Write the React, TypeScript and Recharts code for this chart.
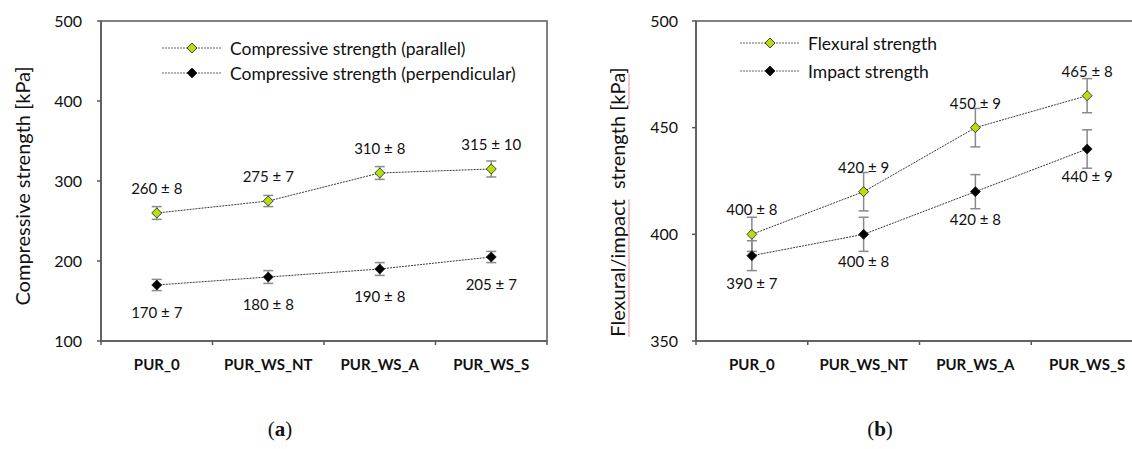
import {
  LineChart,
  Line,
  XAxis,
  YAxis,
  ErrorBar,
  LabelList,
  Label,
  Legend,
  ReferenceArea,
} from 'recharts'

const samples = ['PUR_0', 'PUR_WS_NT', 'PUR_WS_A', 'PUR_WS_S']

// compressive strength, kPa
const parallel = [260, 275, 310, 315]
const parallelErr = [8, 7, 8, 10]
const perpendicular = [170, 180, 190, 205]
const perpendicularErr = [7, 8, 8, 7]

// flexural / impact strength, kPa
const flexural = [400, 420, 450, 465]
const flexuralErr = [8, 9, 9, 8]
const impact = [390, 400, 420, 440]
const impactErr = [7, 8, 8, 9]

const compTicks = [100, 200, 300, 400, 500]
const flexTicks = [350, 400, 450, 500]
const bandTicks = [0, 0.5, 1, 1.5, 2, 2.5, 3, 3.5, 4]

const FONT = 'Lato, "Open Sans", sans-serif'
const AXIS = '#595959'
const LIME = '#b6de14'
const TICK_SIZE = 4
const TICK_GAP = 14

const pm = (v: number, e: number) => `${v} ± ${e}`

const compData = samples.map((s, i) => ({
  x: i + 0.5,
  sample: s,
  parallel: parallel[i],
  parallelErr: parallelErr[i],
  parallelLabel: pm(parallel[i], parallelErr[i]),
  perpendicular: perpendicular[i],
  perpendicularErr: perpendicularErr[i],
  perpendicularLabel: pm(perpendicular[i], perpendicularErr[i]),
}))

const flexData = samples.map((s, i) => ({
  x: i + 0.5,
  sample: s,
  flexural: flexural[i],
  flexuralErr: flexuralErr[i],
  flexuralLabel: pm(flexural[i], flexuralErr[i]),
  impact: impact[i],
  impactErr: impactErr[i],
  impactLabel: pm(impact[i], impactErr[i]),
}))

// tick marks sit on band edges, sample names in the middle of each band
const BandTick = ({ x, y, payload }: any) => {
  const v = payload?.value
  if (Number.isInteger(v)) {
    return <line x1={x} x2={x} y1={y - TICK_GAP - TICK_SIZE} y2={y - TICK_GAP} stroke={AXIS} strokeWidth={1.5} />
  }
  return (
    <text x={x} y={y} dy="0.71em" textAnchor="middle" fontFamily={FONT} fontWeight={700} fontSize={15} fill="#111">
      {samples[Math.floor(v)]}
    </text>
  )
}

const diamond = (fill: string) => (p: any) => {
  const { cx, cy, index } = p
  if (cx == null || cy == null) return <g key={index} />
  const r = 5
  return (
    <path
      key={index}
      d={`M${cx},${cy - r}L${cx + r},${cy}L${cx},${cy + r}L${cx - r},${cy}Z`}
      fill={fill}
      stroke="#1a1a1a"
      strokeWidth={0.8}
    />
  )
}

const valueLabel = (shift: number) => (p: any) => {
  const vb = p.viewBox || {}
  const x = vb.x ?? p.x
  const y = vb.y ?? p.y
  return (
    <text
      key={p.index}
      x={x}
      y={y + shift}
      textAnchor="middle"
      dominantBaseline="central"
      fontFamily={FONT}
      fontSize={15}
      fill="#111"
    >
      {p.value}
    </text>
  )
}

// rotated axis title; `marked` words get the faint red spell-check underline
const axisTitle = (parts: { text: string; marked?: boolean }[], dx: number, dy: number) => (p: any) => {
  const vb = p.viewBox || {}
  const cx = vb.x + dx
  const cy = vb.y + vb.height / 2 + dy
  return (
    <text
      x={cx}
      y={cy}
      transform={`rotate(-90, ${cx}, ${cy})`}
      textAnchor="middle"
      dominantBaseline="central"
      fontFamily={FONT}
      fontSize={20}
      fill="#111"
      style={{ whiteSpace: 'pre' }}
    >
      {parts.map((t, i) =>
        t.marked ? (
          <tspan key={i} fill="#f7c4c4" style={{ textDecoration: 'underline' }}>
            <tspan fill="#111">{t.text}</tspan>
          </tspan>
        ) : (
          <tspan key={i}>{t.text}</tspan>
        ),
      )}
    </text>
  )
}

const SeriesKey = ({ rows, rowHeight }: { rows: { name: string; fill: string }[]; rowHeight: number }) => (
  <div>
    {rows.map((r) => (
      <div key={r.name} style={{ display: 'flex', alignItems: 'center', height: rowHeight }}>
        <svg width={60} height={12}>
          <line x1={0} x2={60} y1={6} y2={6} stroke="#666" strokeWidth={1} strokeDasharray="2 1" />
          <path d="M30,1L35,6L30,11L25,6Z" fill={r.fill} stroke="#1a1a1a" strokeWidth={0.8} />
        </svg>
        <span style={{ marginLeft: 8, fontFamily: FONT, fontSize: 17.5, color: '#111', whiteSpace: 'nowrap' }}>
          {r.name}
        </span>
      </div>
    ))}
  </div>
)

const caption = (letter: string, left: number) => (
  <div
    style={{
      position: 'absolute',
      left,
      top: 417,
      width: 40,
      textAlign: 'center',
      fontFamily: '"Liberation Serif", serif',
      fontSize: 21,
      color: '#111',
    }}
  >
    (<b>{letter}</b>)
  </div>
)

export default function App() {
  return (
    <div
      style={{
        position: 'fixed',
        left: 0,
        top: 0,
        width: 1132,
        height: 449,
        overflow: 'hidden',
        background: '#fff',
      }}
    >
      <LineChart
        width={560}
        height={449}
        data={compData}
        margin={{ top: 21, right: 13, left: 41, bottom: 78 }}
        style={{ position: 'absolute', left: 0, top: 0 }}
      >
        <ReferenceArea x1={0} x2={4} y1={100} y2={500} fill="none" stroke={AXIS} strokeWidth={1.5} />
        <XAxis
          dataKey="x"
          type="number"
          domain={[0, 4]}
          ticks={bandTicks}
          interval={0}
          height={30}
          tickSize={TICK_SIZE}
          tickMargin={TICK_GAP}
          tickLine={false}
          tick={<BandTick />}
          axisLine={{ stroke: AXIS, strokeWidth: 1.5 }}
        />
        <YAxis
          type="number"
          domain={[100, 500]}
          ticks={compTicks}
          width={60}
          tickSize={TICK_SIZE}
          tickMargin={15}
          tickLine={{ stroke: AXIS, strokeWidth: 1.5 }}
          axisLine={{ stroke: AXIS, strokeWidth: 1.5 }}
          tick={{ fontFamily: FONT, fontSize: 16, fill: '#111' }}
        >
          <Label content={axisTitle([{ text: 'Compressive strength [kPa]' }], -19, 5)} />
        </YAxis>
        <Legend
          layout="vertical"
          align="center"
          verticalAlign="middle"
          wrapperStyle={{ left: 162, top: 35.5, width: 'auto' }}
          content={() => (
            <SeriesKey
              rowHeight={25}
              rows={[
                { name: 'Compressive strength (parallel)', fill: LIME },
                { name: 'Compressive strength (perpendicular)', fill: '#000' },
              ]}
            />
          )}
        />
        <Line
          name="Compressive strength (parallel)"
          dataKey="parallel"
          stroke="#3a3a3a"
          strokeWidth={1}
          strokeDasharray="2 1"
          dot={diamond(LIME)}
          activeDot={false}
          isAnimationActive={false}
        >
          <ErrorBar dataKey="parallelErr" width={5} stroke="#8a8a8a" strokeWidth={1.5} direction="y" />
          <LabelList dataKey="parallelLabel" content={valueLabel(-25)} />
        </Line>
        <Line
          name="Compressive strength (perpendicular)"
          dataKey="perpendicular"
          stroke="#3a3a3a"
          strokeWidth={1}
          strokeDasharray="2 1"
          dot={diamond('#000')}
          activeDot={false}
          isAnimationActive={false}
        >
          <ErrorBar dataKey="perpendicularErr" width={5} stroke="#8a8a8a" strokeWidth={1.5} direction="y" />
          <LabelList dataKey="perpendicularLabel" content={valueLabel(27)} />
        </Line>
      </LineChart>

      <LineChart
        width={600}
        height={449}
        data={flexData}
        margin={{ top: 21, right: 17, left: 76, bottom: 78 }}
        style={{ position: 'absolute', left: 560, top: 0 }}
      >
        <ReferenceArea x1={0} x2={4} y1={350} y2={500} fill="none" stroke={AXIS} strokeWidth={1.5} />
        <XAxis
          dataKey="x"
          type="number"
          domain={[0, 4]}
          ticks={bandTicks}
          interval={0}
          height={30}
          tickSize={TICK_SIZE}
          tickMargin={TICK_GAP}
          tickLine={false}
          tick={<BandTick />}
          axisLine={{ stroke: AXIS, strokeWidth: 1.5 }}
        />
        <YAxis
          type="number"
          domain={[350, 500]}
          ticks={flexTicks}
          width={60}
          tickSize={TICK_SIZE}
          tickMargin={14}
          tickLine={{ stroke: AXIS, strokeWidth: 1.5 }}
          axisLine={{ stroke: AXIS, strokeWidth: 1.5 }}
          tick={{ fontFamily: FONT, fontSize: 16, fill: '#111' }}
        >
          <Label
            content={axisTitle(
              [
                { text: 'Flexural/impact', marked: true },
                { text: '  strength [' },
                { text: 'kPa', marked: true },
                { text: ']' },
              ],
              -19,
              21,
            )}
          />
        </YAxis>
        <Legend
          layout="vertical"
          align="center"
          verticalAlign="middle"
          wrapperStyle={{ left: 180, top: 29, width: 'auto' }}
          content={() => (
            <SeriesKey
              rowHeight={28}
              rows={[
                { name: 'Flexural strength', fill: LIME },
                { name: 'Impact strength', fill: '#000' },
              ]}
            />
          )}
        />
        <Line
          name="Flexural strength"
          dataKey="flexural"
          stroke="#3a3a3a"
          strokeWidth={1}
          strokeDasharray="2 1"
          dot={diamond(LIME)}
          activeDot={false}
          isAnimationActive={false}
        >
          <ErrorBar dataKey="flexuralErr" width={5} stroke="#8a8a8a" strokeWidth={1.5} direction="y" />
          <LabelList dataKey="flexuralLabel" content={valueLabel(-25)} />
        </Line>
        <Line
          name="Impact strength"
          dataKey="impact"
          stroke="#3a3a3a"
          strokeWidth={1}
          strokeDasharray="2 1"
          dot={diamond('#000')}
          activeDot={false}
          isAnimationActive={false}
        >
          <ErrorBar dataKey="impactErr" width={5} stroke="#8a8a8a" strokeWidth={1.5} direction="y" />
          <LabelList dataKey="impactLabel" content={valueLabel(27)} />
        </Line>
      </LineChart>

      {caption('a', 260)}
      {caption('b', 860)}
    </div>
  )
}
